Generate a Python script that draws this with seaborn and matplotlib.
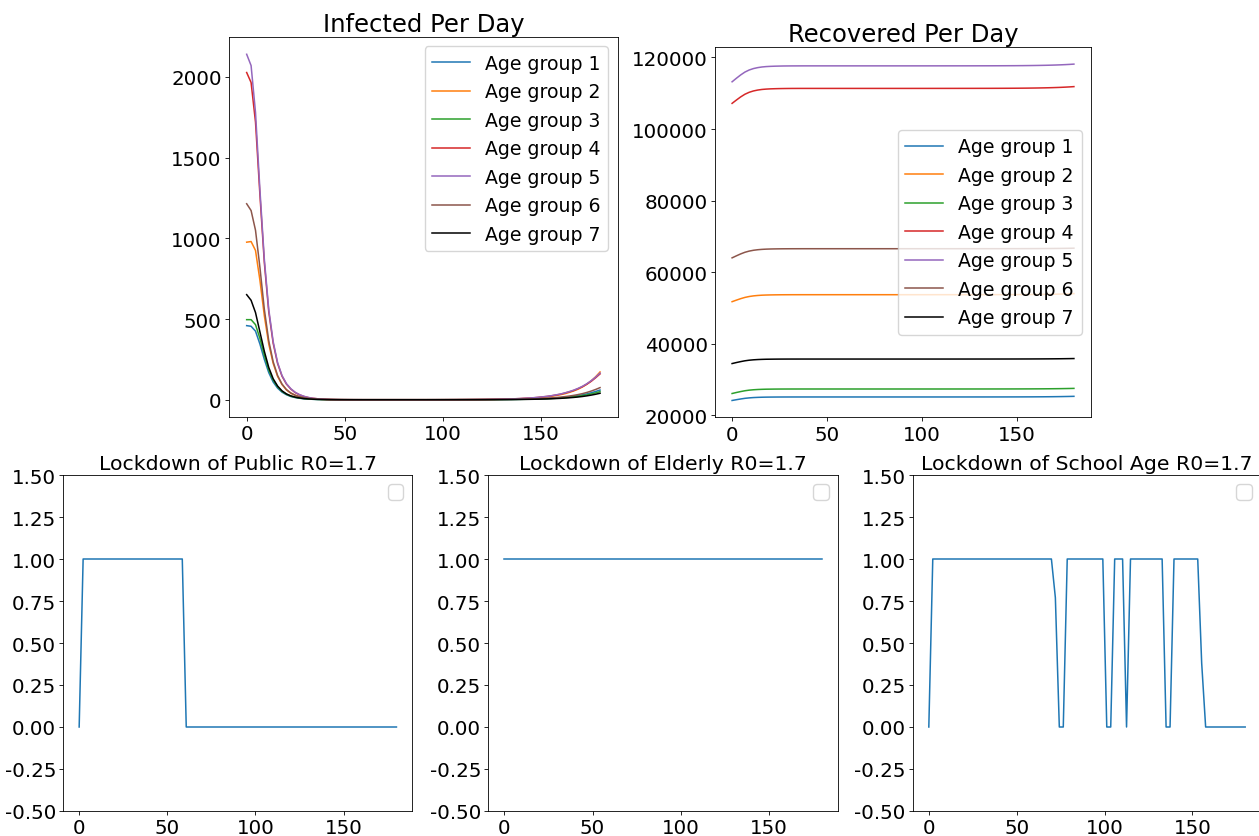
import numpy as np
import pandas as pd
import matplotlib
matplotlib.use("Agg")
import matplotlib.pyplot as plt
import seaborn as sns

plt.rcParams["axes.unicode_minus"] = False

# ---- time axis (81 samples over 180 days) ----
days = np.linspace(0, 180, 81)

group_labels = ["Age group 1", "Age group 2", "Age group 3", "Age group 4",
                "Age group 5", "Age group 6", "Age group 7"]
group_colors = ["#1f77b4", "#ff7f0e", "#2ca02c", "#d62728", "#9467bd", "#8c564b", "black"]

# ---- Infected per day ----
inf_g1 = ([459, 455, 425, 345, 250, 168, 110, 72, 47, 31, 20, 13.5, 9, 6, 4, 2.6, 1.7, 1.2, 0.8, 0.5]
          + [0.35, 0.23, 0.16, 0.11, 0.08, 0.06, 0.05, 0.05, 0.05, 0.05, 0.05, 0.05, 0.05, 0.05, 0.05, 0.05, 0.05, 0.05, 0.05, 0.05]
          + [0.07, 0.08, 0.09, 0.11, 0.13, 0.15, 0.18, 0.22, 0.26, 0.31,
             0.36, 0.42, 0.49, 0.58, 0.69, 0.84, 0.98, 1.16, 1.38, 1.64,
             1.93, 2.3, 2.7, 3.3, 3.8, 4.5, 5.5, 6.5, 7.6, 9.1,
             10.9, 12.7, 15.3, 18.2, 21.5, 25.5, 30.2, 36, 43, 51, 60])
inf_g2 = ([976, 980, 925, 740, 520, 345, 225, 145, 94, 61, 40, 27, 18, 12, 8, 5.5, 3.7, 2.5, 1.6, 1.0]
          + [0.65, 0.42, 0.28, 0.2, 0.15, 0.12, 0.1, 0.1, 0.1, 0.1, 0.1, 0.1, 0.1, 0.1, 0.1, 0.1, 0.1, 0.1, 0.1, 0.1]
          + [0.15, 0.17, 0.2, 0.24, 0.28, 0.33, 0.4, 0.48, 0.57, 0.68,
             0.8, 0.9, 1.1, 1.3, 1.55, 1.85, 2.2, 2.65, 3.1, 3.6,
             4.3, 5.1, 6.1, 7.3, 8.7, 10.4, 12.4, 14.8, 17.7, 21.5,
             26, 31, 37, 45, 54, 65, 79, 96, 117, 142, 172])
inf_g3 = ([496, 496, 465, 380, 275, 185, 122, 80, 52, 34, 22, 15, 10, 6.5, 4.3, 2.9, 1.9, 1.3, 0.9, 0.6]
          + [0.4, 0.26, 0.18, 0.12, 0.09, 0.07, 0.06, 0.06, 0.06, 0.06, 0.06, 0.06, 0.06, 0.06, 0.06, 0.06, 0.06, 0.06, 0.06, 0.06]
          + [0.06, 0.07, 0.08, 0.09, 0.11, 0.13, 0.15, 0.18, 0.22, 0.26,
             0.3, 0.35, 0.41, 0.48, 0.58, 0.7, 0.82, 0.97, 1.15, 1.36,
             1.6, 1.9, 2.3, 2.7, 3.2, 3.8, 4.5, 5.5, 6.4, 7.6,
             9.1, 10.6, 12.7, 15.2, 17.9, 21.2, 25.2, 30, 35.8, 42.4, 50])
inf_g4 = ([2027, 1965, 1720, 1270, 850, 545, 350, 225, 146, 97, 66, 44, 30, 20, 13, 9, 6, 4, 2.5, 1.6]
          + [1.0, 0.7, 0.5, 0.4, 0.3, 0.25, 0.2, 0.2, 0.2, 0.2, 0.2, 0.2, 0.2, 0.2, 0.2, 0.2, 0.2, 0.2, 0.2, 0.2]
          + [0.19, 0.21, 0.25, 0.29, 0.35, 0.41, 0.49, 0.58, 0.7, 0.82,
             0.97, 1.12, 1.31, 1.55, 1.84, 2.2, 2.6, 3.1, 3.7, 4.4,
             5.1, 6.1, 7.3, 8.7, 10.2, 12.1, 14.5, 17.5, 20.4, 24.2,
             29, 34, 41, 48.5, 57, 68, 80.5, 96, 114, 136, 160])
inf_g5 = ([2140, 2070, 1780, 1300, 870, 560, 360, 230, 150, 100, 68, 46, 31, 21, 14, 9, 6, 4, 2.5, 1.6]
          + [1.0, 0.7, 0.5, 0.4, 0.3, 0.25, 0.2, 0.2, 0.2, 0.2, 0.2, 0.2, 0.2, 0.2, 0.2, 0.2, 0.2, 0.2, 0.2, 0.2]
          + [0.2, 0.22, 0.26, 0.3, 0.36, 0.42, 0.5, 0.6, 0.72, 0.85,
             1.0, 1.15, 1.35, 1.6, 1.9, 2.3, 2.7, 3.2, 3.8, 4.5,
             5.3, 6.3, 7.5, 9, 10.5, 12.5, 15, 18, 21, 25,
             30, 35, 42, 50, 59, 70, 83, 99, 118, 140, 165])
inf_g6 = ([1214, 1172, 1050, 820, 560, 365, 235, 150, 97, 63, 42, 28, 19, 13, 9, 6, 4, 2.6, 1.7, 1.1]
          + [0.7, 0.45, 0.3, 0.2, 0.15, 0.12, 0.1, 0.1, 0.1, 0.1, 0.1, 0.1, 0.1, 0.1, 0.1, 0.1, 0.1, 0.1, 0.1, 0.1]
          + [0.09, 0.1, 0.12, 0.14, 0.16, 0.19, 0.23, 0.27, 0.33, 0.39,
             0.46, 0.52, 0.61, 0.73, 0.86, 1.05, 1.23, 1.46, 1.73, 2.05,
             2.4, 2.9, 3.4, 4.1, 4.8, 5.7, 6.8, 8.2, 9.6, 11.4,
             13.6, 15.9, 19.1, 22.7, 26.8, 31.8, 37.7, 45, 53.6, 63.6, 75])
inf_g7 = ([651, 616, 540, 420, 300, 200, 130, 85, 55, 36, 24, 16, 11, 7, 5, 3.3, 2.2, 1.5, 1.0, 0.6]
          + [0.4, 0.26, 0.18, 0.12, 0.09, 0.07, 0.06, 0.06, 0.06, 0.06, 0.06, 0.06, 0.06, 0.06, 0.06, 0.06, 0.06, 0.06, 0.06, 0.06]
          + [0.05, 0.05, 0.06, 0.07, 0.09, 0.1, 0.12, 0.15, 0.17, 0.21,
             0.24, 0.28, 0.33, 0.39, 0.46, 0.56, 0.65, 0.77, 0.92, 1.09,
             1.28, 1.52, 1.82, 2.2, 2.5, 3.0, 3.6, 4.4, 5.1, 6.1,
             7.3, 8.5, 10.2, 12.1, 14.3, 16.9, 20.1, 24, 28.6, 33.9, 40])

# ---- Recovered per day ----
rec_g1 = ([24140, 24355, 24560, 24740, 24865, 24955, 25010, 25050, 25075, 25090, 25100, 25107, 25112, 25115, 25117, 25118, 25119, 25120, 25120, 25120]
          + [25120, 25120, 25120, 25120, 25120, 25120, 25120, 25120, 25120, 25120, 25120, 25120, 25120, 25120, 25120, 25120, 25120, 25120, 25120, 25120]
          + [25120, 25120, 25120, 25120, 25120, 25120, 25120, 25120, 25120, 25120, 25121, 25121, 25122, 25122, 25123, 25123, 25124, 25124, 25125, 25125]
          + [25126, 25127, 25128, 25130, 25132, 25134, 25136, 25139, 25143, 25147, 25152, 25158, 25166, 25174, 25184, 25196, 25211, 25228, 25248, 25272, 25300])
rec_g2 = ([51750, 52180, 52590, 52940, 53195, 53370, 53485, 53565, 53610, 53640, 53660, 53675, 53685, 53690, 53695, 53696, 53698, 53700, 53700, 53700]
          + [53700, 53700, 53700, 53700, 53700, 53700, 53700, 53700, 53700, 53700, 53700, 53700, 53700, 53700, 53700, 53700, 53700, 53700, 53700, 53700]
          + [53700, 53700, 53700, 53700, 53701, 53701, 53702, 53702, 53703, 53703, 53704, 53704, 53705, 53705, 53706, 53706, 53707, 53708, 53709, 53710]
          + [53711, 53713, 53716, 53718, 53721, 53725, 53729, 53734, 53740, 53747, 53756, 53765, 53777, 53791, 53808, 53828, 53852, 53880, 53913, 53953, 54000])
rec_g3 = ([26090, 26370, 26630, 26860, 27025, 27135, 27210, 27260, 27295, 27310, 27325, 27335, 27340, 27344, 27346, 27347, 27349, 27350, 27350, 27350]
          + [27350, 27350, 27350, 27350, 27350, 27350, 27350, 27350, 27350, 27350, 27350, 27350, 27350, 27350, 27350, 27350, 27350, 27350, 27350, 27350]
          + [27350, 27350, 27350, 27350, 27350, 27350, 27350, 27350, 27350, 27350, 27351, 27351, 27352, 27352, 27353, 27353, 27354, 27354, 27355, 27355]
          + [27356, 27357, 27358, 27360, 27361, 27363, 27366, 27369, 27372, 27376, 27381, 27387, 27393, 27401, 27411, 27422, 27436, 27452, 27471, 27493, 27520])
rec_g4 = ([107170, 108090, 108970, 109720, 110265, 110640, 110890, 111060, 111160, 111225, 111265, 111295, 111315, 111330, 111340, 111345, 111348, 111350, 111350, 111350]
          + [111350, 111350, 111350, 111350, 111350, 111350, 111350, 111350, 111350, 111350, 111350, 111350, 111350, 111350, 111350, 111350, 111350, 111350, 111350, 111350]
          + [111350, 111350, 111350, 111351, 111351, 111352, 111352, 111353, 111354, 111355, 111356, 111357, 111358, 111359, 111360, 111361, 111362, 111364, 111366, 111368]
          + [111370, 111373, 111377, 111381, 111386, 111392, 111399, 111408, 111418, 111429, 111444, 111460, 111480, 111503, 111531, 111565, 111604, 111650, 111706, 111772, 111850])
rec_g5 = ([113200, 114180, 115110, 115915, 116495, 116895, 117160, 117340, 117450, 117515, 117560, 117590, 117615, 117628, 117637, 117641, 117646, 117650, 117650, 117650]
          + [117650, 117650, 117650, 117650, 117650, 117650, 117650, 117650, 117650, 117650, 117650, 117650, 117650, 117650, 117650, 117650, 117650, 117650, 117650, 117650]
          + [117650, 117650, 117650, 117651, 117651, 117652, 117652, 117653, 117654, 117655, 117656, 117657, 117658, 117659, 117660, 117661, 117662, 117664, 117666, 117668]
          + [117670, 117673, 117677, 117681, 117686, 117692, 117698, 117707, 117716, 117728, 117742, 117758, 117777, 117800, 117827, 117859, 117898, 117943, 117997, 118062, 118138])
rec_g6 = ([64000, 64560, 65095, 65555, 65885, 66115, 66270, 66370, 66435, 66475, 66500, 66517, 66530, 66537, 66542, 66545, 66547, 66550, 66550, 66550]
          + [66550, 66550, 66550, 66550, 66550, 66550, 66550, 66550, 66550, 66550, 66550, 66550, 66550, 66550, 66550, 66550, 66550, 66550, 66550, 66550]
          + [66550, 66550, 66550, 66550, 66550, 66550, 66550, 66550, 66550, 66550, 66551, 66551, 66552, 66552, 66553, 66553, 66554, 66554, 66555, 66555]
          + [66556, 66557, 66558, 66559, 66561, 66562, 66564, 66567, 66570, 66573, 66578, 66583, 66589, 66596, 66604, 66614, 66626, 66640, 66657, 66677, 66700])
rec_g7 = ([34460, 34740, 35000, 35230, 35395, 35505, 35580, 35630, 35665, 35680, 35695, 35705, 35710, 35714, 35716, 35717, 35719, 35720, 35720, 35720]
          + [35720, 35720, 35720, 35720, 35720, 35720, 35720, 35720, 35720, 35720, 35720, 35720, 35720, 35720, 35720, 35720, 35720, 35720, 35720, 35720]
          + [35720, 35720, 35720, 35720, 35720, 35720, 35720, 35720, 35720, 35720, 35721, 35721, 35722, 35722, 35723, 35723, 35724, 35724, 35725, 35725]
          + [35726, 35726, 35728, 35729, 35730, 35732, 35734, 35736, 35739, 35742, 35746, 35751, 35756, 35763, 35771, 35780, 35791, 35804, 35820, 35838, 35860])

# ---- Lockdown decisions ----
lock_public = [0,
               1, 1, 1, 1, 1, 1, 1, 1, 1, 1, 1, 1, 1, 1, 1, 1, 1, 1, 1, 1, 1, 1, 1, 1, 1, 1,
               0, 0, 0, 0, 0, 0, 0, 0, 0, 0, 0, 0, 0, 0, 0, 0, 0, 0, 0, 0, 0, 0, 0, 0, 0, 0, 0, 0,
               0, 0, 0, 0, 0, 0, 0, 0, 0, 0, 0, 0, 0, 0, 0, 0, 0, 0, 0, 0, 0, 0, 0, 0, 0, 0]
lock_elderly = [1, 1, 1, 1, 1, 1, 1, 1, 1, 1, 1, 1, 1, 1, 1, 1, 1, 1, 1, 1, 1, 1, 1, 1, 1, 1, 1,
                1, 1, 1, 1, 1, 1, 1, 1, 1, 1, 1, 1, 1, 1, 1, 1, 1, 1, 1, 1, 1, 1, 1, 1, 1, 1, 1,
                1, 1, 1, 1, 1, 1, 1, 1, 1, 1, 1, 1, 1, 1, 1, 1, 1, 1, 1, 1, 1, 1, 1, 1, 1, 1, 1]
lock_school = [0,
               1, 1, 1, 1, 1, 1, 1, 1, 1, 1, 1, 1, 1, 1, 1, 1, 1, 1, 1, 1, 1, 1, 1, 1, 1, 1, 1, 1, 1, 1, 1,
               0.77, 0, 0,
               1, 1, 1, 1, 1, 1, 1, 1, 1, 1,
               0, 0,
               1, 1, 1,
               0,
               1, 1, 1, 1, 1, 1, 1, 1, 1,
               0, 0,
               1, 1, 1, 1, 1, 1, 1,
               0.38,
               0, 0, 0, 0, 0, 0, 0, 0, 0, 0, 0]

infected = [inf_g1, inf_g2, inf_g3, inf_g4, inf_g5, inf_g6, inf_g7]
recovered = [rec_g1, rec_g2, rec_g3, rec_g4, rec_g5, rec_g6, rec_g7]

W, H = 1259, 837
fig = plt.figure(figsize=(W / 100, H / 100), dpi=100)


def add_ax(l, t, r, b):
    return fig.add_axes([l / W, 1 - b / H, (r - l) / W, (b - t) / H])


TICK = 14.3
LW = 1.1
LEG = 13.6

ax1 = add_ax(229, 38, 617.7, 418)
ax2 = add_ax(715, 48.3, 1091, 418.3)
axb = [add_ax(63.3, 476, 412.3, 812), add_ax(488.3, 476, 838, 812), add_ax(913, 476, 1261, 812)]

for vals, lab, col in zip(infected, group_labels, group_colors):
    sns.lineplot(x=days, y=vals, ax=ax1, color=col, label=lab, linewidth=LW)
ax1.set_title("Infected Per Day", fontsize=17.5, pad=4.3)
ax1.legend(loc="upper right", fontsize=LEG)

for vals, lab, col in zip(recovered, group_labels, group_colors):
    sns.lineplot(x=days, y=vals, ax=ax2, color=col, label=lab, linewidth=LW)
ax2.set_title("Recovered Per Day", fontsize=17.5, pad=4.3)
ax2.legend(loc="center right", fontsize=LEG)

titles = ["Lockdown of Public R0=1.7", "Lockdown of Elderly R0=1.7", "Lockdown of School Age R0=1.7"]
for ax, vals, ttl in zip(axb, [lock_public, lock_elderly, lock_school], titles):
    sns.lineplot(x=days, y=vals, ax=ax, color="#1f77b4", linewidth=LW)
    ax.set_ylim(-0.5, 1.5)
    ax.set_yticks([-0.5, -0.25, 0, 0.25, 0.5, 0.75, 1.0, 1.25, 1.5])
    ax.set_title(ttl, fontsize=14.7, pad=4.3)
    ax.legend(handles=[], loc="upper right", fontsize=LEG)

for ax in [ax1, ax2] + axb:
    ax.tick_params(labelsize=TICK, length=2.6, pad=2.6, width=0.6)
    for sp in ax.spines.values():
        sp.set_linewidth(0.6)
    ax.set_xlabel("")
    ax.set_ylabel("")
    ax.set_xticks([0, 50, 100, 150])

fig.savefig("out.png", dpi=100)
